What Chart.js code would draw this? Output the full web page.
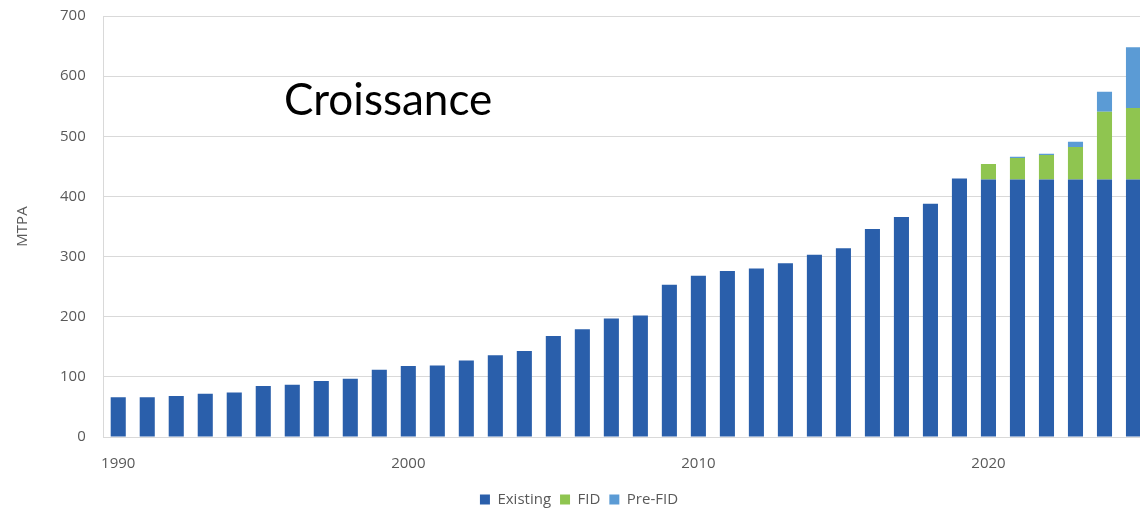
<!DOCTYPE html>
<html>
<head>
<meta charset="utf-8">
<script src="https://cdn.jsdelivr.net/npm/chart.js@4/dist/chart.umd.min.js"></script>
<style>
  html, body { margin: 0; padding: 0; background: #fff; overflow: hidden; }
  #wrap { position: relative; width: 1180px; height: 508px; overflow: hidden; }
  #lng { display: block; margin-top: -11px; }
  #titre { position: absolute; left: 284px; top: 72px; font: 44px Lato, "Open Sans", sans-serif; color: #000; }
</style>
</head>
<body>
<div id="wrap">
  <canvas id="lng" width="1180" height="528"></canvas>
  <div id="titre">Croissance</div>
</div>
<script>
// années 1990 -> 2025
const years = ['1990','1991','1992','1993','1994','1995','1996','1997','1998','1999',
  '2000','2001','2002','2003','2004','2005','2006','2007','2008','2009',
  '2010','2011','2012','2013','2014','2015','2016','2017','2018','2019',
  '2020','2021','2022','2023','2024','2025'];

// capacité existante (MTPA)
const existing = [66, 66, 68, 72, 74, 85, 87, 93, 97, 112,
  118, 119, 127, 136, 143, 168, 179, 197, 202, 253,
  268, 276, 280, 289, 303, 314, 346, 366, 388, 430,
  428, 428, 428, 428, 428, 428];

// projets FID
const fid = [0,0,0,0,0,0,0,0,0,0, 0,0,0,0,0,0,0,0,0,0, 0,0,0,0,0,0,0,0,0,0,
  26, 36, 41, 54, 113, 119];

// projets pré-FID
const preFid = [0,0,0,0,0,0,0,0,0,0, 0,0,0,0,0,0,0,0,0,0, 0,0,0,0,0,0,0,0,0,0,
  0, 2, 2, 9, 33, 101];

const yTicks = [0, 100, 200, 300, 400, 500, 600, 700];

const gris = '#595959';
const police = { family: '"Open Sans", sans-serif', size: 15 };

new Chart(document.getElementById('lng'), {
  type: 'bar',
  data: {
    labels: years,
    datasets: [
      { label: 'Existing', data: existing, backgroundColor: '#2a5fab' },
      { label: 'FID', data: fid, backgroundColor: '#8fc550' },
      { label: 'Pre-FID', data: preFid, backgroundColor: '#5b9bd5' }
    ]
  },
  options: {
    responsive: false,
    animation: false,
    devicePixelRatio: 1,
    layout: { padding: { left: 10, right: 32, top: 0, bottom: 0 } },
    datasets: { bar: { barPercentage: 0.52, categoryPercentage: 1 } },
    scales: {
      x: {
        stacked: true,
        grid: { display: false },
        border: { color: '#d9d9d9' },
        ticks: {
          color: gris, font: police, autoSkip: false, maxRotation: 0, padding: 10,
          callback: function(v, i) { const y = years[i]; return Number(y) % 10 === 0 ? y : ''; }
        }
      },
      y: {
        stacked: true,
        min: 0, max: 700,
        afterBuildTicks: ax => { ax.ticks = yTicks.map(v => ({ value: v })); },
        grid: { color: '#d9d9d9', drawTicks: false },
        border: { color: '#d9d9d9' },
        ticks: { color: gris, font: police, padding: 18 },
        title: { display: true, text: 'MTPA', color: gris, font: police, padding: { bottom: 10 } }
      }
    },
    plugins: {
      legend: {
        position: 'bottom',
        labels: { color: gris, font: { family: '"Open Sans", sans-serif', size: 15 }, boxWidth: 10, boxHeight: 10, padding: 9 }
      },
      tooltip: { enabled: false }
    }
  }
});
</script>
</body>
</html>
